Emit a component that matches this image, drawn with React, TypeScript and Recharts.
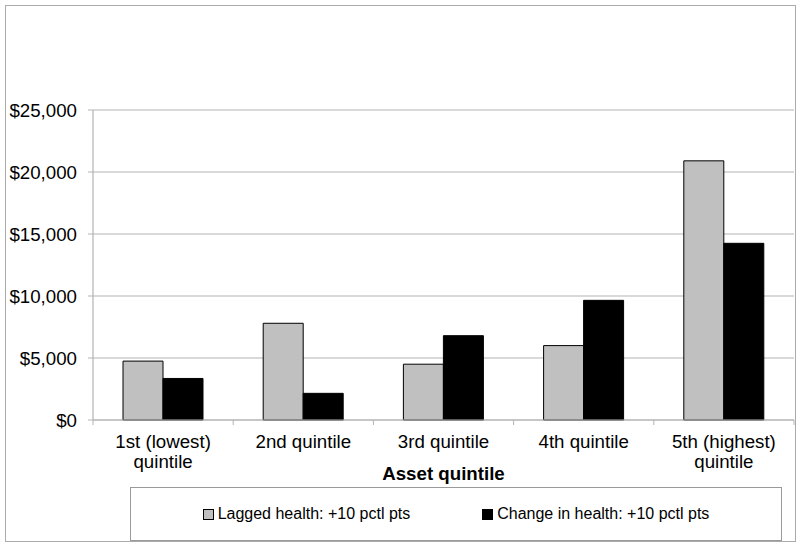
import React from 'react';
import { BarChart, Bar, XAxis, YAxis, CartesianGrid, Legend } from 'recharts';

const categories = ['1st (lowest)\nquintile', '2nd quintile', '3rd quintile', '4th quintile', '5th (highest)\nquintile'];
const laggedHealth = [4750, 7800, 4500, 6000, 20900];
const changeHealth = [3350, 2150, 6800, 9650, 14250];
const yTicks = [0, 5000, 10000, 15000, 20000, 25000];

const seriesNames = {
  lagged: 'Lagged health: +10 pctl pts',
  change: 'Change in health: +10 pctl pts',
};

const data = categories.map((c, i) => ({
  name: c,
  lagged: laggedHealth[i],
  change: changeHealth[i],
}));

const FONT = '"Liberation Sans", Arial, sans-serif';
const GRID = '#b3b3b3';
const HALF_BAND = 701 / categories.length / 2;

// eslint-disable-next-line @typescript-eslint/no-explicit-any
const CategoryTick = ({ x, y, payload, index }: any) => {
  const lines = String(payload.value).split('\n');
  return (
    <g>
      <line x1={x - HALF_BAND} y1={y} x2={x - HALF_BAND} y2={y + 5} stroke={GRID} />
      {index === categories.length - 1 && (
        <line x1={x + HALF_BAND} y1={y} x2={x + HALF_BAND} y2={y + 5} stroke={GRID} />
      )}
      <text x={x} y={y} textAnchor="middle" fontSize={18.7} fontFamily={FONT} fill="#000">
        {lines.map((l, i) => (
          <tspan key={i} x={x} dy={i === 0 ? 28 : 20}>{l}</tspan>
        ))}
      </text>
    </g>
  );
};

const LegendBox = () => (
  <div
    style={{
      boxSizing: 'border-box',
      width: 652,
      height: 54,
      border: '1.5px solid #9a9a9a',
      background: '#fff',
      display: 'flex',
      alignItems: 'center',
      justifyContent: 'center',
      gap: 72,
      fontFamily: FONT,
      fontSize: 16,
      color: '#000',
    }}
  >
    {[
      { key: 'lagged', fill: '#c0c0c0' },
      { key: 'change', fill: '#000' },
    ].map(item => (
      <div key={item.key} style={{ display: 'flex', alignItems: 'center', gap: 4 }}>
        <span
          style={{
            display: 'inline-block',
            width: 9,
            height: 9,
            background: item.fill,
            border: '1px solid #000',
          }}
        />
        <span>{seriesNames[item.key as 'lagged' | 'change']}</span>
      </div>
    ))}
  </div>
);

export default function App() {
  return (
    <div style={{ position: 'absolute', left: 0, top: 0, width: 800, height: 547, background: '#fff' }}>
      <div
        style={{
          position: 'absolute', left: 5, top: 5, width: 791, height: 537,
          boxSizing: 'border-box', border: '1.5px solid #ababab',
        }}
      />
      <div style={{ position: 'absolute', left: 0, top: 0 }}>
        <BarChart
          width={800}
          height={547}
          data={data}
          margin={{ top: 110, right: 6, left: 0, bottom: 60 }}
          barCategoryGap={30}
          barGap={0}
        >
          <CartesianGrid vertical={false} stroke={GRID} strokeWidth={1.2} />
          <XAxis
            dataKey="name"
            height={67}
            interval={0}
            tickSize={0}
            tickMargin={0}
            axisLine={{ stroke: GRID, strokeWidth: 1.2 }}
            tick={<CategoryTick />}
            label={{
              value: 'Asset quintile',
              position: 'insideBottom',
              offset: 7,
              style: { fontFamily: FONT, fontSize: 18.7, fontWeight: 'bold', fill: '#000' },
            }}
          />
          <YAxis
            width={93}
            domain={[0, 25000]}
            ticks={yTicks}
            interval={0}
            tickSize={5}
            tickMargin={11}
            axisLine={{ stroke: GRID, strokeWidth: 1.2 }}
            tickLine={{ stroke: GRID }}
            tick={{ fontFamily: FONT, fontSize: 18.7, fill: '#000' }}
            tickFormatter={(v: number) => `$${v.toLocaleString('en-US')}`}
          />
          <Legend
            layout="horizontal"
            verticalAlign="middle"
            align="center"
            wrapperStyle={{ position: 'absolute', left: 130, top: 487, width: 652, height: 54 }}
            content={<LegendBox />}
          />
          <Bar dataKey="lagged" name={seriesNames.lagged} fill="#c0c0c0" stroke="#000" strokeWidth={1} isAnimationActive={false} />
          <Bar dataKey="change" name={seriesNames.change} fill="#000" stroke="#000" strokeWidth={1} isAnimationActive={false} />
        </BarChart>
      </div>
    </div>
  );
}
